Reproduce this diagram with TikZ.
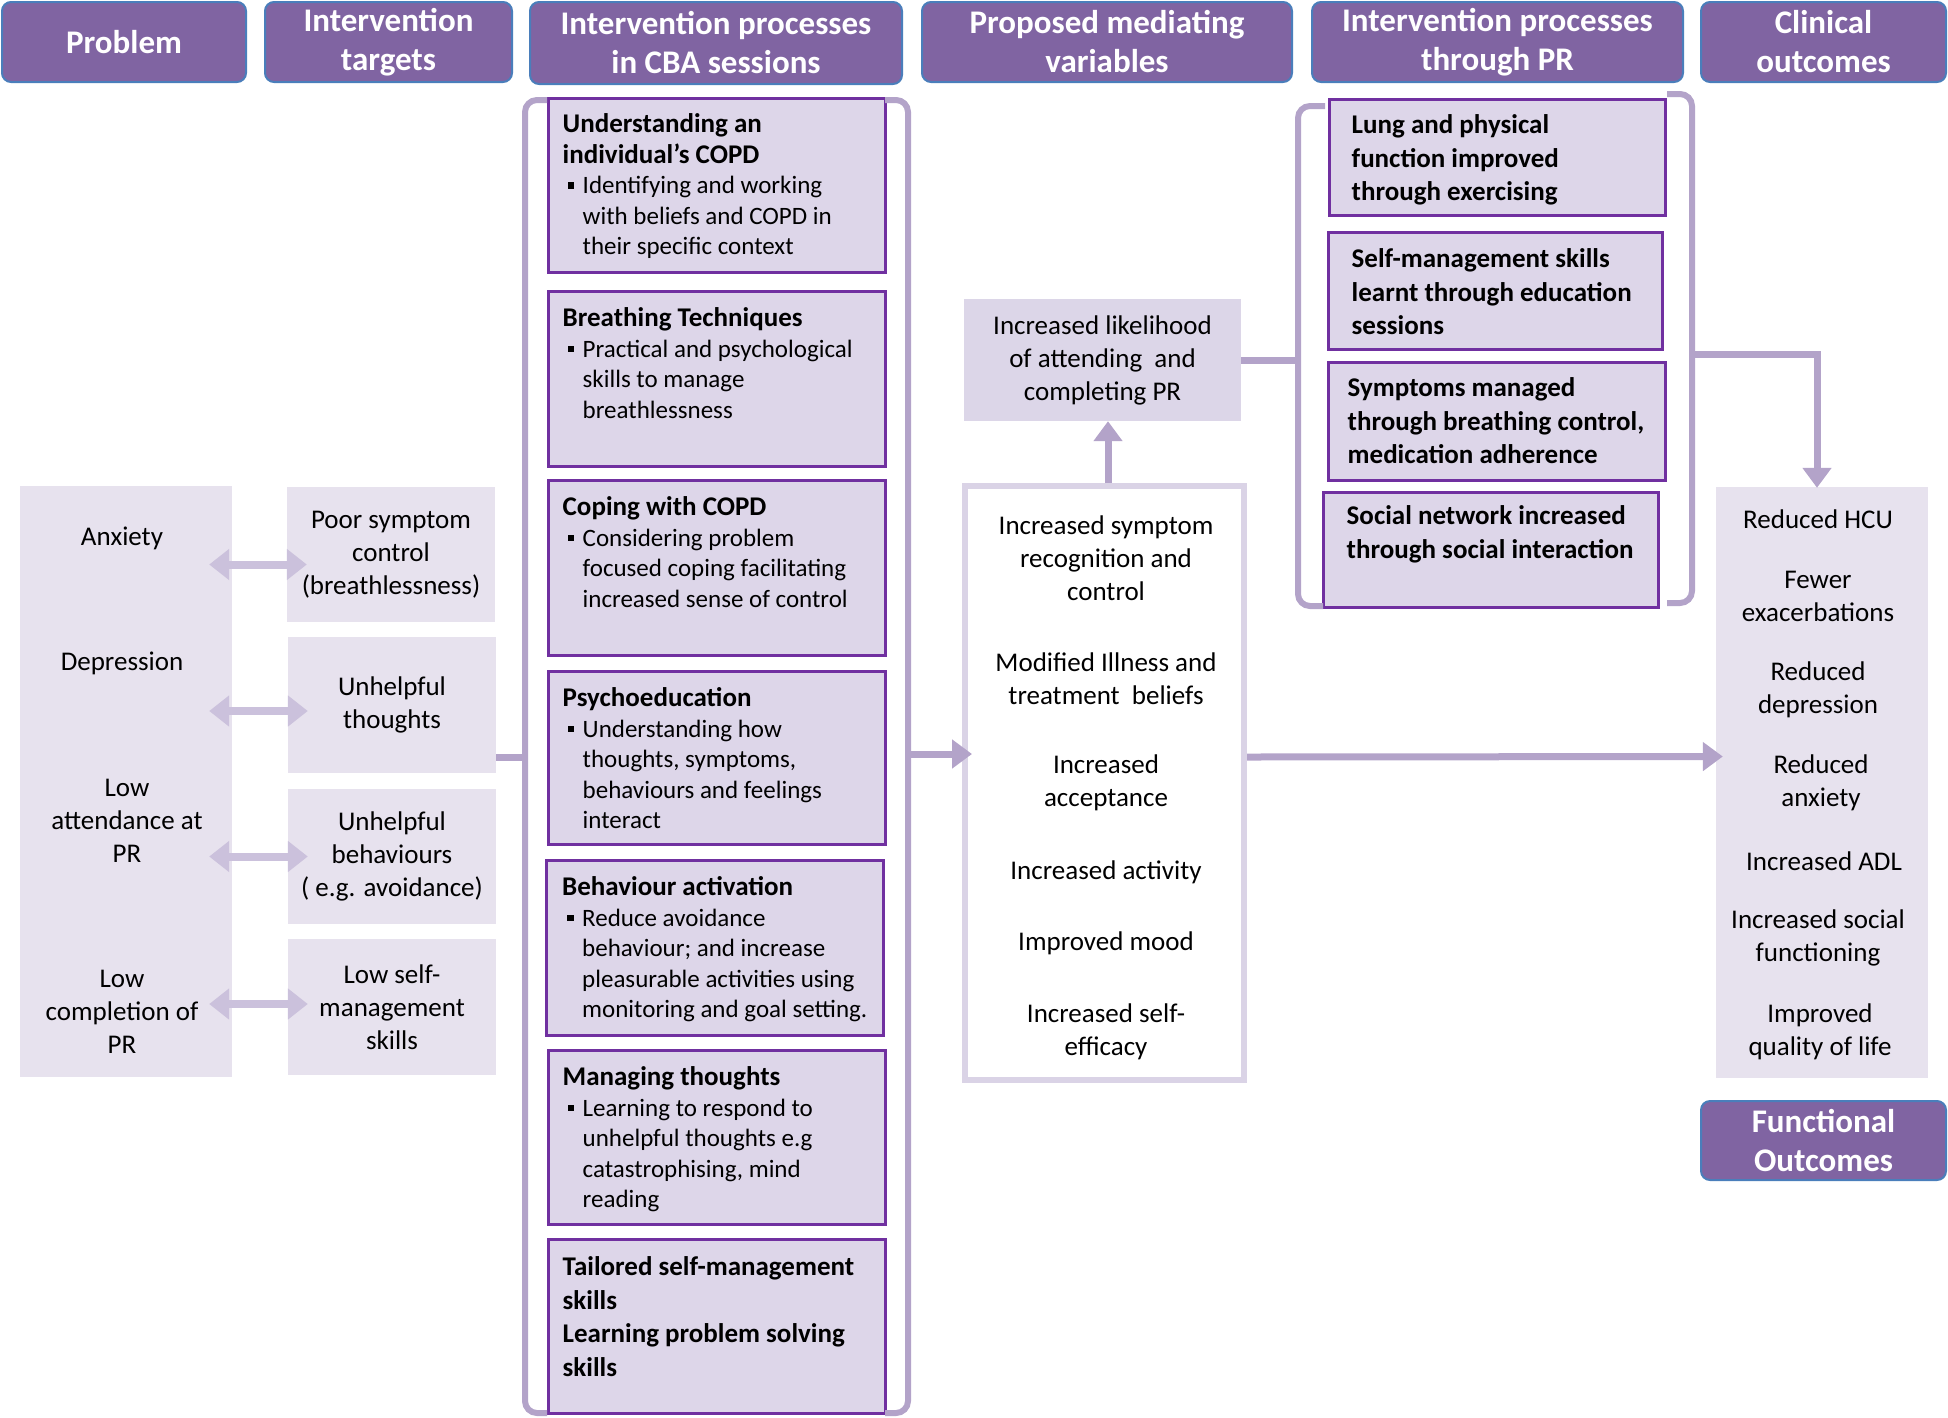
\documentclass[tikz,border=0pt]{standalone}
\usepackage{fontspec}
\setmainfont{Carlito}
\usetikzlibrary{arrows.meta,calc}
\definecolor{hdrfill}{HTML}{8064A2}
\definecolor{hdrline}{HTML}{4A7EBB}
\definecolor{lightbox}{HTML}{E7E2EE}
\definecolor{midbox}{HTML}{DDD6E9}
\definecolor{likbox}{HTML}{DCD6E8}
\definecolor{boxline}{HTML}{7030A0}
\definecolor{arrowc}{HTML}{B3A3C9}
\definecolor{dblc}{HTML}{CBC1DC}
\definecolor{medline}{HTML}{DAD3E6}
\newcommand{\bul}{\makebox[20pt][l]{\hspace{5pt}\rule[5pt]{6.5pt}{6.5pt}}}
\newcommand{\ind}{\hspace*{20pt}}
\newcommand{\ttl}[1]{{\fontsize{27}{31}\selectfont\bfseries #1}}
\tikzset{
  hdr/.style={draw=hdrline, line width=2pt, fill=hdrfill, rounded corners=9pt, text=white,
    font=\fontsize{33}{39}\selectfont\bfseries, align=center, inner sep=0pt},
  lbox/.style={fill=lightbox, draw=none, inner sep=0pt, align=center},
  cbox/.style={fill=midbox, draw=boxline, line width=3pt, inner sep=0pt},
  txt/.style={align=center, inner sep=0pt},
  ltxt/.style={align=left, inner sep=0pt, anchor=north west, font=\fontsize{25}{30.5}\selectfont},
  btxt/.style={align=left, inner sep=0pt, anchor=north west, font=\fontsize{27}{33.5}\selectfont\bfseries},
  arr/.style={draw=arrowc, line width=7pt, -{Triangle[width=28pt,length=20pt]}},
  dbl/.style={draw=dblc, line width=8pt, {Triangle[width=30pt,length=20pt]}-{Triangle[width=30pt,length=20pt]}},
  brk/.style={draw=arrowc, line width=6pt, rounded corners=12pt},
  cline/.style={draw=arrowc, line width=7pt},
}
\begin{document}
\begin{tikzpicture}[x=1pt, y=-1pt, font=\fontsize{27}{33}\selectfont]
\useasboundingbox (0,0) rectangle (1948,1417);

% headers
\node[hdr, minimum width=244pt, minimum height=80pt] (h1) at (124,42) {Problem};
\node[hdr, minimum width=247pt, minimum height=80pt] (h2) at (388.5,42) {Intervention\\targets};
\node[hdr, minimum width=372pt, minimum height=82pt] (h3) at (716,43) {Intervention processes\\in CBA sessions};
\node[hdr, minimum width=370pt, minimum height=80pt] (h4) at (1107,42) {Proposed mediating\\variables};
\node[hdr, minimum width=371pt, minimum height=80pt] (h5) at (1497.5,42) {Intervention processes\\through PR};
\node[hdr, minimum width=245pt, minimum height=80pt] (h6) at (1823.5,42) {Clinical\\outcomes};
\node[hdr, minimum width=245pt, minimum height=79pt] (h7) at (1823.5,1140.5) {Functional\\Outcomes};

% problem box
\node[lbox, minimum width=212pt, minimum height=591pt] (pb) at (126,781.5) {};
\node[txt] (pa) at (122,538) {Anxiety};
\node[txt] (pd) at (122,663) {Depression};
\node[txt] (pl) at (127,821) {Low\\attendance at\\PR};
\node[txt] (pc) at (122,1012) {Low\\completion of\\PR};

% targets
\node[lbox, minimum width=208pt, minimum height=135pt] (t1) at (391,554.5) {Poor symptom\\control\\(breathlessness)};
\node[lbox, minimum width=208pt, minimum height=136pt] (t2) at (392,705) {Unhelpful\\thoughts};
\node[lbox, minimum width=208pt, minimum height=135pt] (t3) at (392,856.5) {Unhelpful\\behaviours\\( e.g. avoidance)};
\node[lbox, minimum width=208pt, minimum height=136pt] (t4) at (392,1007) {Low self-\\management\\skills};

% CBA boxes
\node[cbox, minimum width=337pt, minimum height=174pt] (c1) at (716.5,185) {};
\node[cbox, minimum width=337pt, minimum height=175pt] (c2) at (716.5,378.5) {};
\node[cbox, minimum width=337pt, minimum height=175pt] (c3) at (716.5,567.5) {};
\node[cbox, minimum width=337pt, minimum height=173pt] (c4) at (716.5,757.5) {};
\node[cbox, minimum width=337pt, minimum height=175pt] (c5) at (715,947.5) {};
\node[cbox, minimum width=337pt, minimum height=174pt] (c6) at (716.5,1137) {};
\node[cbox, minimum width=337pt, minimum height=174pt] (c7) at (716.5,1326) {};

\node[ltxt] (c1t) at ([xshift=16pt,yshift=-17pt]c1.north west)
  {\ttl{Understanding an}\\ \ttl{individual’s COPD}\\ \bul Identifying and working\\ \ind with beliefs and COPD in\\ \ind their specific context};
\node[ltxt] (c2t) at ([xshift=16pt,yshift=-18pt]c2.north west)
  {\ttl{Breathing Techniques}\\ \bul Practical and psychological\\ \ind skills to manage\\ \ind breathlessness};
\node[ltxt] (c3t) at ([xshift=16pt,yshift=-18pt]c3.north west)
  {\ttl{Coping with COPD}\\ \bul Considering problem\\ \ind focused coping facilitating\\ \ind increased sense of control};
\node[ltxt] (c4t) at ([xshift=16pt,yshift=-18pt]c4.north west)
  {\ttl{Psychoeducation}\\ \bul Understanding how\\ \ind thoughts, symptoms,\\ \ind behaviours and feelings\\ \ind interact};
\node[ltxt] (c5t) at ([xshift=17pt,yshift=-18pt]c5.north west)
  {\ttl{Behaviour activation}\\ \bul Reduce avoidance\\ \ind behaviour; and increase\\ \ind pleasurable activities using\\ \ind monitoring and goal setting.};
\node[ltxt] (c6t) at ([xshift=16pt,yshift=-18pt]c6.north west)
  {\ttl{Managing thoughts}\\ \bul Learning to respond to\\ \ind unhelpful thoughts e.g\\ \ind catastrophising, mind\\ \ind reading};
\node[btxt] (c7t) at ([xshift=16pt,yshift=-19pt]c7.north west)
  {Tailored self-management\\skills\\Learning problem solving\\skills};

% mediating
\node[fill=likbox, inner sep=0pt, align=center, minimum width=277pt, minimum height=122pt] (lik) at (1102.5,360)
  {Increased likelihood\\of attending\ \ and\\completing PR};
\node[fill=white, draw=medline, line width=6pt, inner sep=0pt, minimum width=279pt, minimum height=594pt] (med) at (1104.5,783) {};
\node[txt] (m1) at (1106,558) {Increased symptom\\recognition and\\control};
\node[txt] (m2) at (1106,679) {Modified Illness and\\treatment\ \ beliefs};
\node[txt] (m3) at (1106,783) {Increased\\acceptance};
\node[txt] (m4) at (1106,872) {Increased activity};
\node[txt] (m5) at (1106,943) {Improved mood};
\node[txt] (m6) at (1106,1032) {Increased self-\\efficacy};

% PR boxes
\node[cbox, minimum width=336pt, minimum height=116pt] (p1) at (1497,157) {};
\node[cbox, minimum width=334pt, minimum height=117pt] (p2) at (1495,290.5) {};
\node[cbox, minimum width=337pt, minimum height=118pt] (p3) at (1496.5,421) {};
\node[cbox, minimum width=335pt, minimum height=115pt] (p4) at (1490.5,549.5) {};
\node[btxt] (p1t) at ([xshift=24pt,yshift=-17pt]p1.north west) {Lung and physical\\function improved\\through exercising};
\node[btxt] (p2t) at ([xshift=25pt,yshift=-18pt]p2.north west) {Self-management skills\\learnt through education\\sessions};
\node[btxt] (p3t) at ([xshift=21pt,yshift=-17pt]p3.north west) {Symptoms managed\\through breathing control,\\medication adherence};
\node[btxt] (p4t) at ([xshift=25pt,yshift=-15pt]p4.north west) {Social network increased\\through social interaction};

% outcomes
\node[lbox, minimum width=212pt, minimum height=591pt] (out) at (1822,782.5) {};
\node[txt] (o1) at (1818,519) {Reduced HCU};
\node[txt] (o2) at (1818,596) {Fewer\\exacerbations};
\node[txt] (o3) at (1818,690) {Reduced\\depression};
\node[txt] (o4) at (1821,783) {Reduced\\anxiety};
\node[txt] (o5) at (1824,861) {Increased ADL};
\node[txt] (o6) at (1818,938) {Increased social\\functioning};
\node[txt] (o7) at (1820,1032) {Improved\\quality of life};

% brackets
\draw[brk] (547,100) -- (525,100) -- (525,1413) -- (547,1413);
\draw[brk] (885,100) -- (908,100) -- (908,1413) -- (885,1413);
\draw[brk] (1325,106) -- (1298,106) -- (1298,606) -- (1323,606);
\draw[brk] (1667,94) -- (1692,94) -- (1692,603) -- (1667,603);
\coordinate (bl) at (525,757);
\coordinate (br) at (908,754);
\coordinate (bpl) at (1298,360);
\coordinate (bpr) at (1692,354);

% double arrows
\draw[dbl] ([xshift=-23pt,yshift=-10pt]pb.east |- t1.west) -- ([xshift=20pt,yshift=-10pt]t1.west);
\draw[dbl] ([xshift=-23pt,yshift=-6pt]pb.east |- t2.west) -- ([xshift=20pt,yshift=-6pt]t2.west);
\draw[dbl] ([xshift=-23pt]pb.east |- t3.west) -- ([xshift=20pt]t3.west);
\draw[dbl] ([xshift=-23pt,yshift=3pt]pb.east |- t4.west) -- ([xshift=20pt,yshift=3pt]t4.west);

% connectors
\draw[cline] (bl -| t2.east) -- (bl);
\draw[arr] (br) -- ($(br -| med.west)+(10,0)$);
\draw[arr] ([xshift=3.5pt]med.north) -- ([xshift=5.5pt]lik.south);
\draw[cline] (lik.east) -- (bpl);
\draw[arr] ([yshift=26pt]med.east) -- ([xshift=7pt,yshift=26pt]out.west);
\draw[arr] (bpr) -| ([xshift=-5pt,yshift=-1pt]out.north);
\end{tikzpicture}
\end{document}
